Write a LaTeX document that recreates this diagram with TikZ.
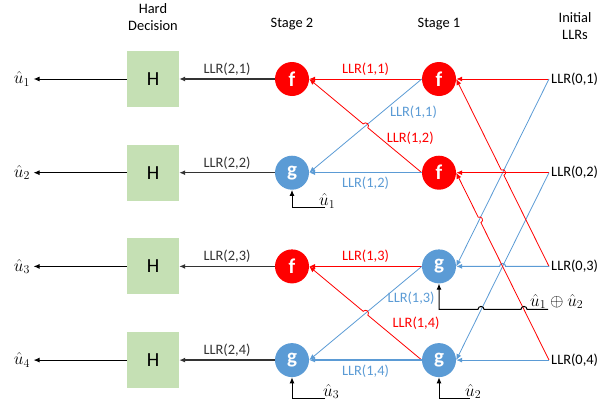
\documentclass[tikz,border=0pt]{standalone}
\usepackage{amsmath}
\usepackage{fontspec}
\setmainfont{Carlito}
\usepackage{tikz}
\usetikzlibrary{calc,arrows.meta}

\definecolor{llrred}{HTML}{FF0000}
\definecolor{llrblue}{HTML}{5B9BD5}
\definecolor{hdgreen}{HTML}{C5E0B4}

% straight connector with a small hop at the given fraction
\newcommand{\hopline}[4]{%
    \draw[#1] let \p1=($(#3)-(#2)$), \n1={atan2(\y1,\x1)},
        \p2=($(#2)!#4!(#3)$) in
        (#2) -- ($(\p2)!3pt!(#2)$)
        arc[start angle=\n1+180, delta angle=180, radius=3pt] -- (#3);
}

\begin{document}
\begin{tikzpicture}[x=1pt, y=1pt, node distance=93.7pt, >={Latex[length=6pt, width=5pt]},
    font=\fontsize{14.4}{17}\selectfont,
    hbox/.style={fill=hdgreen, minimum width=52pt, minimum height=56pt, font=\fontsize{20}{24}\selectfont},
    fnode/.style={circle, fill=llrred, text=white, minimum size=34pt, inner sep=0pt, font=\fontsize{21}{24}\selectfont\bfseries},
    gnode/.style={fnode, fill=llrblue},
    lab/.style={inner sep=2pt},
    ubit/.style={font=\fontsize{17.28}{20}\selectfont},
    blk/.style={->, black!80, line width=1.3pt},
    redln/.style={->, llrred, line width=0.8pt},
    blueln/.style={->, llrblue, line width=0.8pt},
    fbln/.style={->, black, line width=1pt}]

    \useasboundingbox (0,0) rectangle (616,-407);

    % columns
    \node [ubit] (u1) at (22,-79) {$\hat{u}_1$};
    \node [ubit, below of=u1] (u2) {$\hat{u}_2$};
    \node [ubit, below of=u2] (u3) {$\hat{u}_3$};
    \node [ubit, below of=u3] (u4) {$\hat{u}_4$};

    \node [hbox] (h1) at (153,-79) {H};
    \node [hbox, below of=h1] (h2) {H};
    \node [hbox, below of=h2] (h3) {H};
    \node [hbox, below of=h3] (h4) {H};

    \node [fnode] (a1) at (292,-79) {f};
    \node [gnode, below of=a1] (a2) {g};
    \node [fnode, below of=a2] (a3) {f};
    \node [gnode, below of=a3] (a4) {g};

    \node [fnode] (b1) at (439,-79) {f};
    \node [fnode, below of=b1] (b2) {f};
    \node [gnode, below of=b2] (b3) {g};
    \node [gnode, below of=b3] (b4) {g};

    \node [lab, anchor=west] (l1) at (549,0 |- b1) {LLR(0,1)};
    \node [lab, anchor=west] (l2) at (549,0 |- b2) {LLR(0,2)};
    \node [lab, anchor=west] (l3) at (549,0 |- b3) {LLR(0,3)};
    \node [lab, anchor=west] (l4) at (549,0 |- b4) {LLR(0,4)};

    % headers
    \node [align=center] (hd0) at (153,-17) {Hard\\Decision};
    \node (hd2) at (292,-24) {Stage 2};
    \node (hd1) at (439,-24) {Stage 1};
    \node [align=center] (hd3) at (575,-26) {Initial\\LLRs};

    % hard decisions
    \foreach \i in {1,...,4} {
        \draw[blk, black, line width=1pt] (h\i) -- (u\i);
        \draw[blk] (a\i) -- node[above, lab, inner sep=3pt] (t2\i) {LLR(2,\i)} (h\i);
    }

    % stage 1 -> stage 2
    \draw[redln, line width=1pt] (b1) -- node[above, lab, inner sep=3pt, text=llrred] (t11) {LLR(1,1)} (a1);
    \draw[blueln] (b1.west) -- (a2.east);
    \hopline{redln}{b2.west}{a1.east}{0.5}
    \draw[blueln, line width=1.5pt] (b2) -- node[below, lab, inner sep=4pt, text=llrblue] (t12) {LLR(1,2)} (a2);
    \draw[redln, line width=1pt] (b3) -- node[above, lab, inner sep=3pt, text=llrred] (t13) {LLR(1,3)} (a3);
    \draw[blueln] (b3.west) -- (a4.east);
    \hopline{redln}{b4.west}{a3.east}{0.5}
    \draw[blueln, line width=1.5pt] (b4) -- node[below, lab, inner sep=4pt, text=llrblue] (t14) {LLR(1,4)} (a4);

    \node [lab, anchor=west, xshift=6pt, text=llrblue] (s11) at ($(b1.west)!0.355!(a2.east)$) {LLR(1,1)};
    \node [lab, anchor=west, xshift=4pt, text=llrred] (s12) at ($(b2.west)!0.366!(a1.east)$) {LLR(1,2)};
    \node [lab, anchor=west, xshift=2pt, text=llrblue] (s13) at ($(b3.west)!0.34!(a4.east)$) {LLR(1,3)};
    \node [lab, anchor=west, xshift=13pt, text=llrred] (s14) at ($(b4.west)!0.394!(a3.east)$) {LLR(1,4)};

    % initial LLRs -> stage 1
    \draw[redln, line width=1pt] (l1.west) -- (b1);
    \draw[blueln] (l1.west) -- (b3.east);
    \draw[redln, line width=1pt] (l2.west) -- (b2);
    \draw[blueln] (l2.west) -- (b4.east);
    \hopline{redln}{l3.west}{b1.east}{0.5}
    \hopline{blueln, line width=1pt}{l3.west}{b3.east}{0.5}
    \hopline{redln}{l4.west}{b2.east}{0.748}
    \draw[blueln, line width=1pt] (l4.west) -- (b4);

    % decided bits fed back
    \coordinate (c1) at ($(a2)+(33,-35)$);
    \draw[fbln] (c1) -| (a2);
    \node [ubit, anchor=base west, inner sep=0pt] (v1) at ($(c1)+(-6,2)$) {$\hat{u}_1$};

    \coordinate (c2) at ($(b4)+(31,-38)$);
    \draw[fbln] (c2) -| (b4);
    \node [ubit, anchor=base west, inner sep=0pt] (v2) at ($(c2)+(-5,2)$) {$\hat{u}_2$};

    \coordinate (c3) at ($(a4)+(33,-38)$);
    \draw[fbln] (c3) -| (a4);
    \node [ubit, anchor=base west, inner sep=0pt] (v3) at ($(c3)+(-2,2)$) {$\hat{u}_3$};

    \coordinate (c4) at ($(b3)+(109,-43)$);
    \draw[fbln] (c4) -- ($(c4)+(-21,0)$) arc[start angle=0, delta angle=180, radius=3pt]
        -- ($(c4)+(-64,0)$) arc[start angle=0, delta angle=180, radius=3pt] -| (b3);
    \node [ubit, anchor=base west, inner sep=0pt] (v4) at ($(c4)+(-18,3)$) {$\hat{u}_1 \oplus \hat{u}_2$};
\end{tikzpicture}
\end{document}
